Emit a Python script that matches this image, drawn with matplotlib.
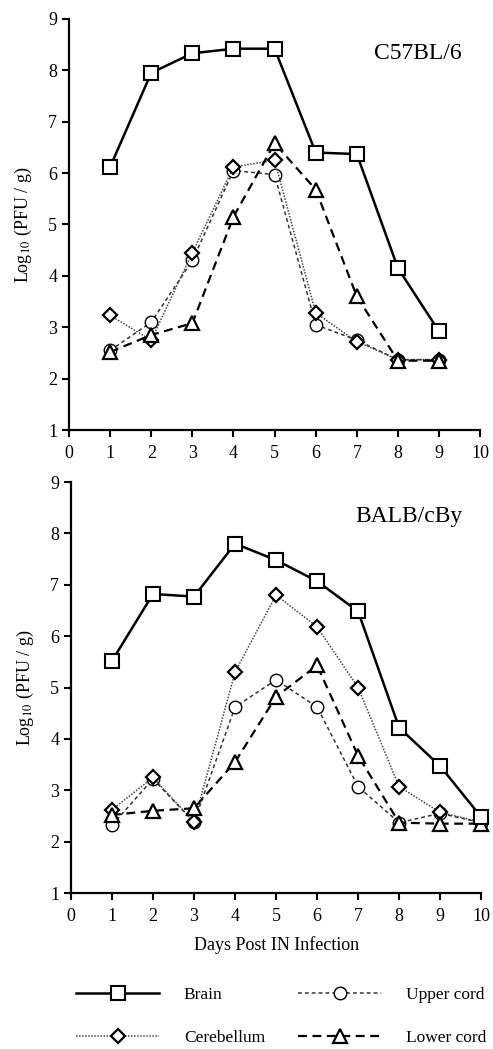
import matplotlib
matplotlib.use('Agg')
import matplotlib.pyplot as plt

plt.rcParams['font.family'] = ['Liberation Serif', 'DejaVu Serif']
plt.rcParams['mathtext.fontset'] = 'stix'

days_top = [1, 2, 3, 4, 5, 6, 7, 8, 9]
days_bot = [1, 2, 3, 4, 5, 6, 7, 8, 9, 10]

# C57BL/6
brain_b6 = [6.12, 7.95, 8.33, 8.42, 8.42, 6.40, 6.37, 4.15, 2.92]
cereb_b6 = [3.23, 2.75, 4.45, 6.12, 6.25, 3.28, 2.72, 2.37, 2.37]
upper_b6 = [2.55, 3.10, 4.30, 6.05, 5.97, 3.05, 2.75, 2.37, 2.37]
lower_b6 = [2.52, 2.85, 3.08, 5.15, 6.58, 5.68, 3.60, 2.35, 2.35]

# BALB/cBy
brain_bc = [5.52, 6.82, 6.77, 7.80, 7.48, 7.07, 6.48, 4.22, 3.47, 2.48]
cereb_bc = [2.62, 3.25, 2.38, 5.30, 6.80, 6.18, 5.00, 3.07, 2.57, 2.38]
upper_bc = [2.32, 3.22, 2.38, 4.62, 5.15, 4.62, 3.07, 2.37, 2.55, 2.37]
lower_bc = [2.52, 2.60, 2.65, 3.55, 4.82, 5.43, 3.67, 2.37, 2.35, 2.35]

xticks = list(range(0, 11))
yticks = list(range(1, 10))

fig = plt.figure(figsize=(4.93, 10.49), dpi=100)
ax1 = fig.add_axes([0.140, 0.590, 0.834, 0.392])
ax2 = fig.add_axes([0.144, 0.1487, 0.832, 0.3918])


def draw(ax, days, brain, cereb, upper, lower, title):
    h = []
    h += ax.plot(days, brain, color='black', lw=1.8, ls='-', marker='s', ms=10,
                 mfc='white', mec='black', mew=1.5, label='Brain', zorder=5)
    h += ax.plot(days, cereb, color='#444444', lw=1.1, ls=(0, (1, 1)), marker='D', ms=7,
                 mfc='white', mec='black', mew=1.6, label='Cerebellum', zorder=3)
    h += ax.plot(days, upper, color='#333333', lw=1.1, ls=(0, (2.5, 2)), marker='o', ms=9,
                 mfc='white', mec='black', mew=1.0, label='Upper cord', zorder=2)
    h += ax.plot(days, lower, color='black', lw=1.6, ls=(0, (4, 2.5)), marker='^', ms=10,
                 mfc='white', mec='black', mew=1.6, label='Lower cord', zorder=4)
    ax.set_xlim(0, 10)
    ax.set_ylim(1, 9)
    ax.set_xticks(xticks)
    ax.set_yticks(yticks)
    ax.spines['top'].set_visible(False)
    ax.spines['right'].set_visible(False)
    ax.spines['left'].set_linewidth(1.6)
    ax.spines['bottom'].set_linewidth(1.6)
    ax.tick_params(axis='both', direction='out', length=5, width=1.5, labelsize=13)
    ax.tick_params(axis='x', pad=6)
    ax.set_ylabel('Log$_{10}$ (PFU / g)', fontsize=13, labelpad=10)
    ax.text(0.955, 0.915, title, transform=ax.transAxes, ha='right', va='center', fontsize=17)
    for ln in ax.lines:
        ln.set_clip_on(False)
    return h


handles = draw(ax1, days_top, brain_b6, cereb_b6, upper_b6, lower_b6, 'C57BL/6')
draw(ax2, days_bot, brain_bc, cereb_bc, upper_bc, lower_bc, 'BALB/cBy')
ax2.set_xlabel('Days Post IN Infection', fontsize=13, labelpad=8)

fig.legend(handles, [h.get_label() for h in handles], ncol=2, loc='center',
           bbox_to_anchor=(0.57, 0.031), frameon=False, fontsize=12.5,
           handlelength=4.8, handletextpad=1.4, columnspacing=1.9,
           labelspacing=1.55, numpoints=1)

fig.savefig('out.png', dpi=100)
